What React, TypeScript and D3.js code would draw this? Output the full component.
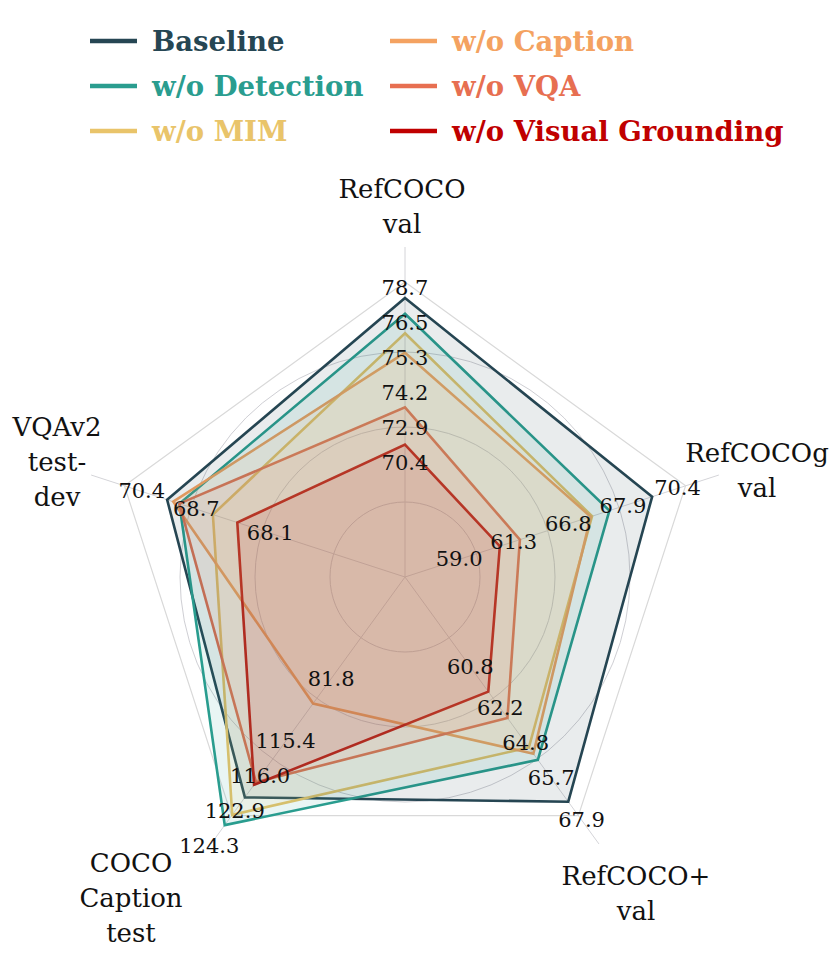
import React from "react";
import * as d3 from "d3";

// ---------- data ----------
const AXES = [
  ["RefCOCO", "val"],
  ["RefCOCOg", "val"],
  ["RefCOCO+", "val"],
  ["COCO", "Caption", "test"],
  ["VQAv2", "test-", "dev"],
];
// per-axis value range mapped to [0, R]
const AXIS_DOMAINS: [number, number][] = [
  [62.9, 79.6],
  [51.9, 72.9],
  [53.4, 68.8],
  [37.6, 121.0],
  [62.6, 71.8],
];
const SERIES = ["Baseline", "w/o Detection", "w/o MIM", "w/o Caption", "w/o VQA", "w/o Visual Grounding"];
const COLORS = ["#264653", "#2a9d8f", "#e9c46a", "#f4a261", "#e76f51", "#c00000"];

// plotted values (axis units)
const baseline = [78.7, 70.4, 67.9, 114.6, 70.4];
const woDetection = [77.8, 67.2, 65.2, 124.3, 70.0];
const woMIM = [76.7, 65.9, 64.4, 120.7, 68.9];
const woCaption = [75.6, 65.8, 64.8, 81.8, 70.2];
const woVQA = [72.5, 60.5, 62.5, 109.3, 70.0];
const woVG = [70.4, 59.0, 60.8, 110.2, 68.1];
const VALUES = [baseline, woDetection, woMIM, woCaption, woVQA, woVG];

// printed score annotations (null = not printed)
const baselineLabels = [78.7, 70.4, 67.9, 122.9, 70.4];
const woDetectionLabels = [76.5, 67.9, 65.7, 124.3, null];
const woMIMLabels = [75.3, 66.8, 64.8, null, 68.7];
const woCaptionLabels = [74.2, null, null, 81.8, null];
const woVQALabels = [72.9, 61.3, 62.2, 116.0, null];
const woVGLabels = [70.4, 59.0, 60.8, 115.4, 68.1];
const LABELS = [baselineLabels, woDetectionLabels, woMIMLabels, woCaptionLabels, woVQALabels, woVGLabels];

// ---------- layout ----------
const W = 830;
const H = 956;
const CX = 405;
const CY = 577;
const R = 295;
const SPOKE_R = 330;
const RINGS = [75, 150, 225];
const TITLE_OFFSETS: [number, number][] = [
  [-3, -371],
  [352, -107],
  [231, 316],
  [-274, 321],
  [-348, -115],
];
const SERIF = "'DejaVu Serif', 'Liberation Serif', serif";

function angleOf(i: number) {
  return (i * 2 * Math.PI) / AXES.length;
}
function dir(i: number): [number, number] {
  const a = angleOf(i);
  return [Math.sin(a), -Math.cos(a)];
}

export default function App() {
  const scales = AXIS_DOMAINS.map((d) => d3.scaleLinear().domain(d).range([0, R]));
  const pt = (axis: number, v: number): [number, number] => {
    const r = scales[axis](v);
    const [ux, uy] = dir(axis);
    return [CX + ux * r, CY + uy * r];
  };

  const line = d3.line<[number, number]>().curve(d3.curveLinearClosed);

  // value label placement along each axis
  const labelNodes: { x: number; y: number; text: string }[] = [];
  AXES.forEach((_, a) => {
    const [ux, uy] = dir(a);
    const items: { r: number; v: number; text: string }[] = [];
    LABELS.forEach((labs, s) => {
      const lv = labs[a];
      if (lv == null) return;
      items.push({ r: scales[a](VALUES[s][a]), v: lv, text: lv.toFixed(1) });
    });
    items.sort((p, q) => q.v - p.v);
    const placed: number[] = [];
    items.forEach((it, k) => {
      const hw = it.text.length * 6.2;
      const hh = 10;
      const ext = hw * Math.abs(ux) + hh * Math.abs(uy);
      const sp = Math.min(
        Math.abs(ux) > 1e-6 ? (2 * hw + 5) / Math.abs(ux) : Infinity,
        Math.abs(uy) > 1e-6 ? 35 / Math.abs(uy) : Infinity
      );
      let r = it.r + ext;
      if (k > 0) r = Math.min(r, placed[k - 1] - sp);
      if (k === items.length - 1 && k > 0) r = Math.min(r, it.r - ext - 8);
      placed.push(r);
      labelNodes.push({ x: CX + ux * r, y: CY + uy * r, text: it.text });
    });
  });

  const framePts = AXES.map((_, i) => {
    const [ux, uy] = dir(i);
    return [CX + ux * R, CY + uy * R] as [number, number];
  });

  const polys = VALUES.map((vals) => line(vals.map((v, a) => pt(a, v))) || "");

  return (
    <svg width={W} height={H} style={{ display: "block", position: "absolute", left: 0, top: 0 }}>
      <rect width={W} height={H} fill="#fff" />
      {/* grid */}
      {RINGS.map((r) => (
        <circle key={r} cx={CX} cy={CY} r={r} fill="none" stroke="#cfcfd4" strokeWidth={1} />
      ))}
      {AXES.map((_, i) => {
        const [ux, uy] = dir(i);
        return (
          <line key={i} x1={CX} y1={CY} x2={CX + ux * SPOKE_R} y2={CY + uy * SPOKE_R} stroke="#d4d4d8" strokeWidth={1} />
        );
      })}
      <path d={line(framePts) || ""} fill="none" stroke="#d9d9d9" strokeWidth={1.2} />

      {/* series outlines, then translucent fills on top */}
      {polys.map((d, s) => (
        <path key={"l" + s} d={d} fill="none" stroke={COLORS[s]} strokeWidth={2.6} strokeLinejoin="miter" />
      ))}
      {polys.map((d, s) => (
        <path key={"f" + s} d={d} fill={COLORS[s]} fillOpacity={0.1} stroke="none" />
      ))}

      {/* value labels */}
      {labelNodes.map((n, i) => (
        <text key={i} x={n.x} y={n.y} textAnchor="middle" dominantBaseline="central" fontFamily={SERIF} fontSize={21} fill="#111">
          {n.text}
        </text>
      ))}

      {/* axis titles */}
      {AXES.map((lines, i) => {
        const [dx, dy] = TITLE_OFFSETS[i];
        const lh = 35;
        const y0 = CY + dy - ((lines.length - 1) * lh) / 2;
        return (
          <text key={i} textAnchor="middle" fontFamily={SERIF} fontSize={26} fill="#111">
            {lines.map((t, k) => (
              <tspan key={k} x={CX + dx} y={y0 + k * lh} dominantBaseline="central">
                {t}
              </tspan>
            ))}
          </text>
        );
      })}

      {/* legend */}
      {SERIES.map((name, s) => {
        const col = Math.floor(s / 3);
        const row = s % 3;
        const x0 = col === 0 ? 90 : 390;
        const y = 41 + row * 45;
        return (
          <g key={s}>
            <line x1={x0} x2={x0 + 47} y1={y} y2={y} stroke={COLORS[s]} strokeWidth={4.5} />
            <text x={x0 + 62} y={y} dominantBaseline="central" fontFamily={SERIF} fontWeight="bold" fontSize={27.5} fill={COLORS[s]}>
              {name}
            </text>
          </g>
        );
      })}
    </svg>
  );
}
